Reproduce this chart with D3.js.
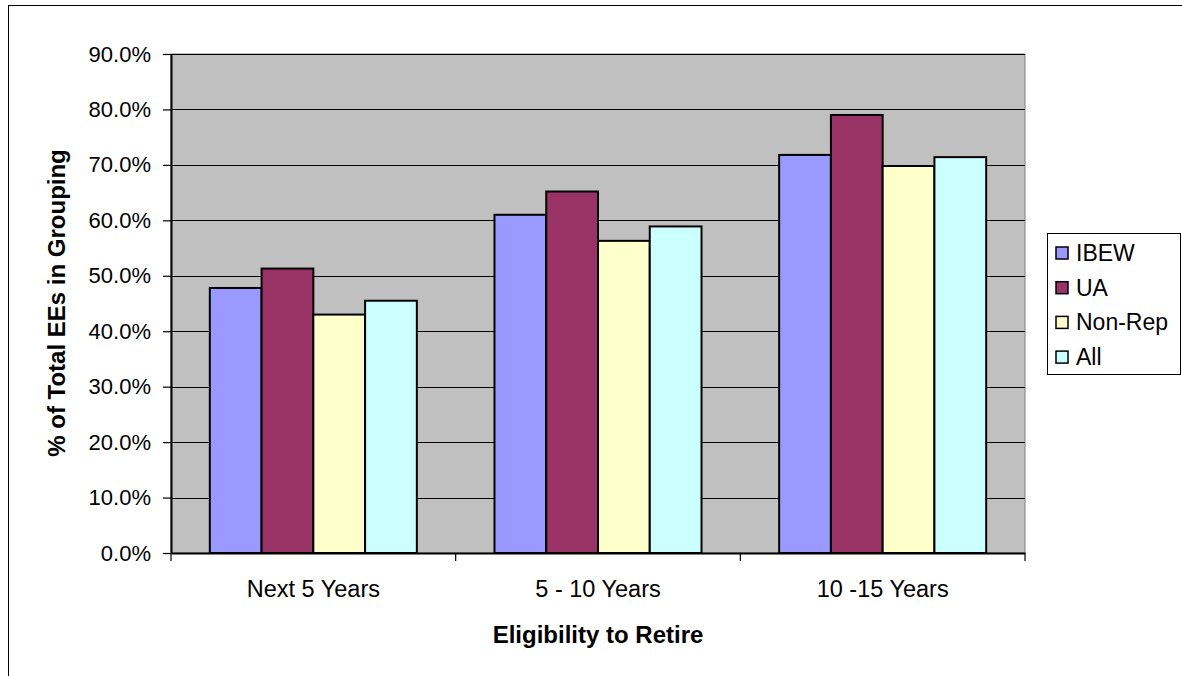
<!DOCTYPE html>
<html>
<head>
<meta charset="utf-8">
<script src="https://cdn.jsdelivr.net/npm/d3@7"></script>
<style>
  body { margin: 0; background: #fff; }
  svg { font-family: "Liberation Sans", Arial, sans-serif; }
</style>
</head>
<body>
<div id="chart"></div>
<script>
// data
const categories = ["Next 5 Years", "5 - 10 Years", "10 -15 Years"];
const seriesNames = ["IBEW", "UA", "Non-Rep", "All"];
const seriesColors = ["#9999ff", "#993366", "#ffffcc", "#ccffff"];
const ibew = [0.478, 0.610, 0.718];
const ua = [0.513, 0.652, 0.790];
const nonRep = [0.430, 0.563, 0.698];
const all = [0.455, 0.589, 0.714];
const yTicks = [0, 0.1, 0.2, 0.3, 0.4, 0.5, 0.6, 0.7, 0.8, 0.9];

const seriesValues = [ibew, ua, nonRep, all];

const svgWidth = 1182, svgHeight = 676;
const margin = { top: 54, left: 171, right: 157, bottom: 123 };
const width = svgWidth - margin.left - margin.right;
const height = svgHeight - margin.top - margin.bottom;

const svg = d3.select("#chart").append("svg")
  .attr("width", svgWidth)
  .attr("height", svgHeight);

// outer chart frame
svg.append("rect")
  .attr("x", 8.5).attr("y", 5.5)
  .attr("width", svgWidth + 10).attr("height", svgHeight + 10)
  .attr("fill", "none").attr("stroke", "#000").attr("stroke-width", 1);

const g = svg.append("g")
  .attr("transform", "translate(" + margin.left + "," + margin.top + ")");

const x0 = d3.scaleBand().domain(categories).range([0, width]).paddingInner(0).paddingOuter(0);
// gap width 150%: bars take 4/5.5 of the category
const groupW = x0.bandwidth() * 4 / 5.5;
const x1 = d3.scaleBand().domain(seriesNames).range([0, groupW]);
const y = d3.scaleLinear().domain([0, 0.9]).range([height, 0]);

// plot background
g.append("rect")
  .attr("width", width).attr("height", height)
  .attr("fill", "#c0c0c0").attr("stroke", "#808080").attr("stroke-width", 1);

// gridlines
g.append("g").selectAll("line")
  .data(yTicks.filter(d => d > 0))
  .enter().append("line")
  .attr("x1", 0).attr("x2", width)
  .attr("y1", d => Math.round(y(d)) + 0.5).attr("y2", d => Math.round(y(d)) + 0.5)
  .attr("stroke", "#000").attr("stroke-width", 1.2);

// bars
const groups = g.append("g").selectAll("g")
  .data(categories)
  .enter().append("g")
  .attr("transform", d => "translate(" + (x0(d) + (x0.bandwidth() - groupW) / 2) + ",0)");

groups.selectAll("rect")
  .data((c, ci) => seriesNames.map((s, si) => ({ s: s, si: si, v: seriesValues[si][ci] })))
  .enter().append("rect")
  .attr("x", d => x1(d.s))
  .attr("y", d => y(d.v))
  .attr("width", x1.bandwidth())
  .attr("height", d => height - y(d.v))
  .attr("fill", d => seriesColors[d.si])
  .attr("stroke", "#000").attr("stroke-width", 2);

// y axis
const yAxis = g.append("g")
  .call(d3.axisLeft(y).tickValues(yTicks).tickFormat(d3.format(".1%")).tickSize(8).tickSizeOuter(0));
yAxis.select(".domain").attr("stroke", "#000").attr("stroke-width", 2);
yAxis.selectAll(".tick line").attr("stroke", "#000").attr("stroke-width", 1.2);
yAxis.selectAll(".tick text")
  .attr("x", -20)
  .style("font-family", "Liberation Sans, Arial, sans-serif")
  .style("font-size", "22px").attr("fill", "#000");

// x axis
const xAxis = g.append("g")
  .attr("transform", "translate(0," + height + ")")
  .call(d3.axisBottom(x0).tickSize(0).tickSizeOuter(0));
xAxis.select(".domain").attr("stroke", "#000").attr("stroke-width", 2);
xAxis.selectAll(".tick text")
  .attr("y", 44).attr("dy", 0)
  .style("font-family", "Liberation Sans, Arial, sans-serif")
  .style("font-size", "23.5px").attr("fill", "#000");
// category separator ticks
g.append("g").selectAll("line")
  .data(d3.range(categories.length + 1))
  .enter().append("line")
  .attr("x1", i => i * x0.bandwidth()).attr("x2", i => i * x0.bandwidth())
  .attr("y1", height).attr("y2", height + 8)
  .attr("stroke", "#000").attr("stroke-width", 1.2);

// axis titles
svg.append("text")
  .attr("x", margin.left + width / 2).attr("y", 643)
  .attr("text-anchor", "middle")
  .style("font-size", "24px").style("font-weight", "bold")
  .text("Eligibility to Retire");

svg.append("text")
  .attr("transform", "translate(65," + 303 + ") rotate(-90)")
  .attr("text-anchor", "middle")
  .style("font-size", "24px").style("font-weight", "bold")
  .text("% of Total EEs in Grouping");

// legend
const legend = svg.append("g").attr("transform", "translate(1047,233)");
legend.append("rect")
  .attr("x", 0.5).attr("y", 0.5).attr("width", 133).attr("height", 141)
  .attr("fill", "#fff").attr("stroke", "#000").attr("stroke-width", 1);

const items = legend.selectAll("g.item")
  .data(seriesNames)
  .enter().append("g").attr("class", "item")
  .attr("transform", (d, i) => "translate(0," + (20 + i * 34.7) + ")");
items.append("rect")
  .attr("x", 9).attr("y", -6).attr("width", 12).attr("height", 12)
  .attr("fill", (d, i) => seriesColors[i])
  .attr("stroke", "#000").attr("stroke-width", 1.5);
items.append("text")
  .attr("x", 29).attr("y", 0).attr("dy", "0.35em")
  .style("font-size", "23px")
  .text(d => d);
</script>
</body>
</html>
